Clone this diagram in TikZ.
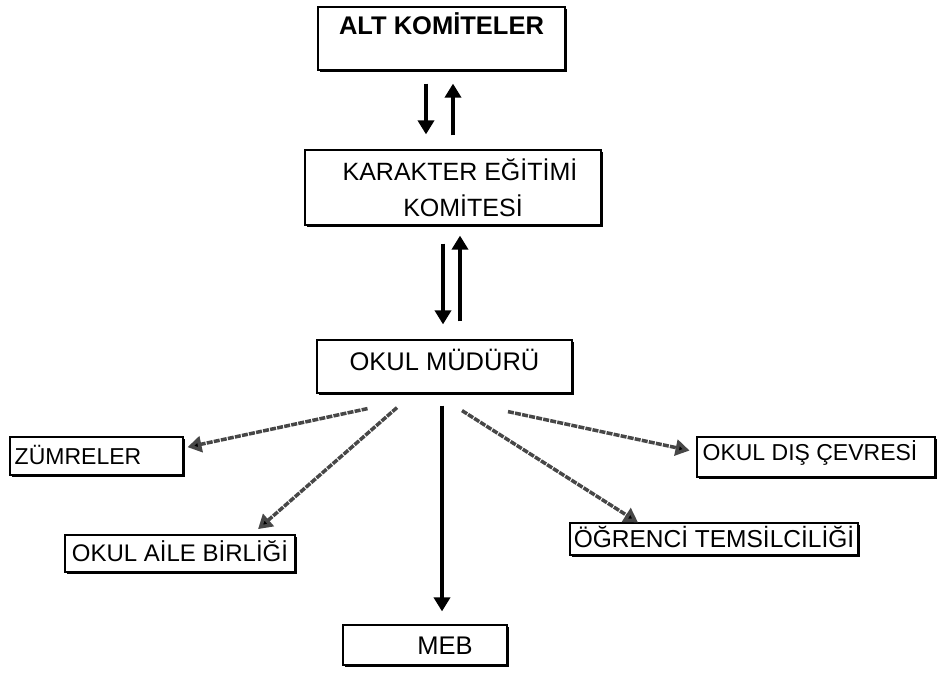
\documentclass[tikz,border=0pt]{standalone}
\usepackage{fontspec}
\setmainfont{Liberation Sans}
\usetikzlibrary{arrows.meta,shadows}
\begin{document}
\begin{tikzpicture}[x=1pt,y=-1pt,
  box/.style={draw=black, line width=1.2pt, fill=white, rectangle, inner sep=0pt,
    drop shadow={shadow xshift=1.6pt, shadow yshift=-1.6pt, opacity=1, fill=black},
    font=\fontsize{23}{27}\selectfont, text height=16.5pt, text depth=0pt},
  arr/.style={line width=3.5pt, -{Triangle[length=14pt,width=16pt]}},
  darr/.style={line width=3.5pt, draw=black!72, dash pattern=on 6pt off 1.2pt,
    -{Triangle[length=14pt,width=16pt,fill=black]}}]
\useasboundingbox (0,0) rectangle (939,677);
% boxes
\node[box, minimum width=247pt, minimum height=63pt, font=\bfseries\fontsize{25.5}{28}\selectfont,
  text height=17pt, text depth=24pt] (alt) at (441.5,38.5) {ALT KOMİTELER};
\node[box, minimum width=296pt, minimum height=75pt, align=center,
  text height=, text depth=, font=\fontsize{25}{36}\selectfont] (kar) at (453,187.5)
  {\hspace*{14pt}KARAKTER EĞİTİMİ\\\hspace*{20pt}KOMİTESİ};
\node[box, minimum width=255pt, minimum height=53pt, font=\fontsize{25.5}{28}\selectfont,
  text height=17pt, text depth=10pt] (om) at (444.5,366.5) {OKUL MÜDÜRÜ};
\node[box, minimum width=173pt, minimum height=38pt] (zum) at (96.5,456) {ZÜMRELER\hspace*{37pt}};
\node[box, minimum width=230pt, minimum height=37pt, font=\fontsize{24}{27}\selectfont] (oab) at (180,553.5) {OKUL AİLE BİRLİĞİ};
\node[box, minimum width=238pt, minimum height=40pt, text depth=10pt] (odc) at (816,457) {OKUL DIŞ ÇEVRESİ\hspace*{12pt}};
\node[box, minimum width=288pt, minimum height=32pt, font=\fontsize{24.5}{27}\selectfont] (ogr) at (714,539) {ÖĞRENCİ TEMSİLCİLİĞİ};
\node[box, minimum width=164pt, minimum height=40pt, font=\fontsize{25.5}{28}\selectfont,
  text height=18pt] (meb) at (425,645) {\hspace*{40pt}MEB};
% vertical guide coordinates
\coordinate (c1) at (426,0);
\coordinate (c2) at (453,0);
\coordinate (c3) at (443,0);
\coordinate (c4) at (460,0);
\coordinate (c5) at (442,0);
% connectors
\draw[arr, shorten <=13pt, shorten >=15pt] (alt.south -| c1) -- (kar.north -| c1);
\draw[arr, shorten <=14pt, shorten >=13pt] (kar.north -| c2) -- (alt.south -| c2);
\draw[arr, shorten <=18pt, shorten >=15pt] (kar.south -| c3) -- (om.north -| c3);
\draw[arr, shorten <=18pt, shorten >=10pt] (om.north -| c4) -- (kar.south -| c4);
\draw[arr, shorten <=12pt, shorten >=13pt] (om.south -| c5) -- (meb.north -| c5);
\draw[darr, shorten >=4pt] ([xshift=-77pt,yshift=-15pt]om.south) -- ([yshift=8pt]zum.east);
\draw[darr, shorten >=8pt] ([xshift=-47.5pt,yshift=-14pt]om.south) -- ([xshift=72pt]oab.north);
\draw[darr] ([xshift=17.5pt,yshift=-17pt]om.south) -- ([xshift=-76pt]ogr.north);
\draw[darr, shorten >=7pt] ([xshift=63.5pt,yshift=-18pt]om.south) -- ([yshift=5pt]odc.west);
\end{tikzpicture}
\end{document}
